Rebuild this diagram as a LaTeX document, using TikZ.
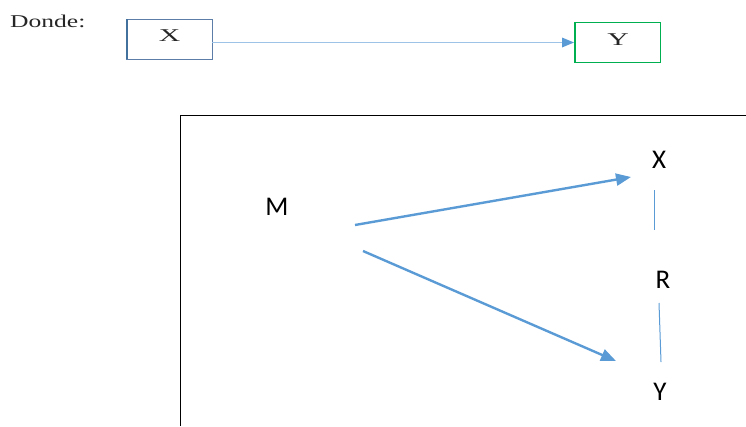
\documentclass[tikz,border=0pt]{standalone}
\usepackage{fontspec}
\setmainfont{Liberation Serif}
\newfontfamily\labelfont{Carlito}
\usetikzlibrary{arrows.meta,calc}
\definecolor{steel}{HTML}{5B7DA8}
\definecolor{steeldark}{HTML}{41719C}
\definecolor{legendgreen}{HTML}{00B050}
\definecolor{paleblue}{HTML}{9DC3E6}
\definecolor{arrowblue}{HTML}{5B9BD5}
\definecolor{legendink}{HTML}{262626}
\tikzset{
  legendtext/.style={font=\fontsize{18}{18}\selectfont, inner sep=0pt, text=legendink},
  varlabel/.style={font=\labelfont\fontsize{27}{27}\selectfont, inner sep=0pt},
  relarrow/.style={arrowblue, line width=2.4pt, -{Triangle[length=15pt,width=12pt]}},
  corrline/.style={arrowblue, line width=1pt},
}
\begin{document}
\begin{tikzpicture}[x=1pt,y=-1pt]
  \useasboundingbox (0,0) rectangle (746,426);

  % legend
  \node[legendtext, anchor=base west] (donde) at (10,27) {\scalebox{1.42}[1]{Donde:}};
  \draw[steel, line width=1pt] (126,19) rectangle (212,59);
  \draw[steeldark, line width=2.5pt] (127,19) -- (127,59);
  \node[legendtext] (lx) at (169.5,35.5) {\scalebox{1.65}[1]{X}};
  \draw[legendgreen, line width=1pt] (574,22) rectangle (660,62);
  \draw[legendgreen, line width=2.5pt] (575,22) -- (575,62);
  \node[legendtext] (ly) at (618,40) {\scalebox{1.65}[1]{Y}};
  \coordinate (lxr) at (212,42.5);
  \coordinate (lyl) at (574,42.5);
  \draw[paleblue, line width=1.2pt] (lxr) -- ($(lyl)+(-10,0)$);
  \draw[draw=none, fill=arrowblue] (lyl) -- (562,37.5) -- (562,47.5) -- cycle;

  % frame
  \draw[black, line width=1pt] (180,426) -- (180,115) -- (746,115);

  % variables
  \node[varlabel] (M) at (277,207) {M};
  \node[varlabel] (X) at (659,160) {X};
  \node[varlabel] (R) at (663,280) {R};
  \node[varlabel] (Y) at (660,392) {Y};

  \coordinate (m1) at (355,225);
  \coordinate (x1) at (631,177);
  \coordinate (m2) at (363,251);
  \coordinate (y1) at (616,361);
  \draw[relarrow] (m1) -- (x1);
  \draw[relarrow] (m2) -- (y1);

  \coordinate (xr1) at (654,190);
  \coordinate (xr2) at (654,230);
  \coordinate (ry1) at (659,303);
  \coordinate (ry2) at (661,362);
  \draw[corrline] (xr1) -- (xr2);
  \draw[corrline] (ry1) -- (ry2);
\end{tikzpicture}
\end{document}
